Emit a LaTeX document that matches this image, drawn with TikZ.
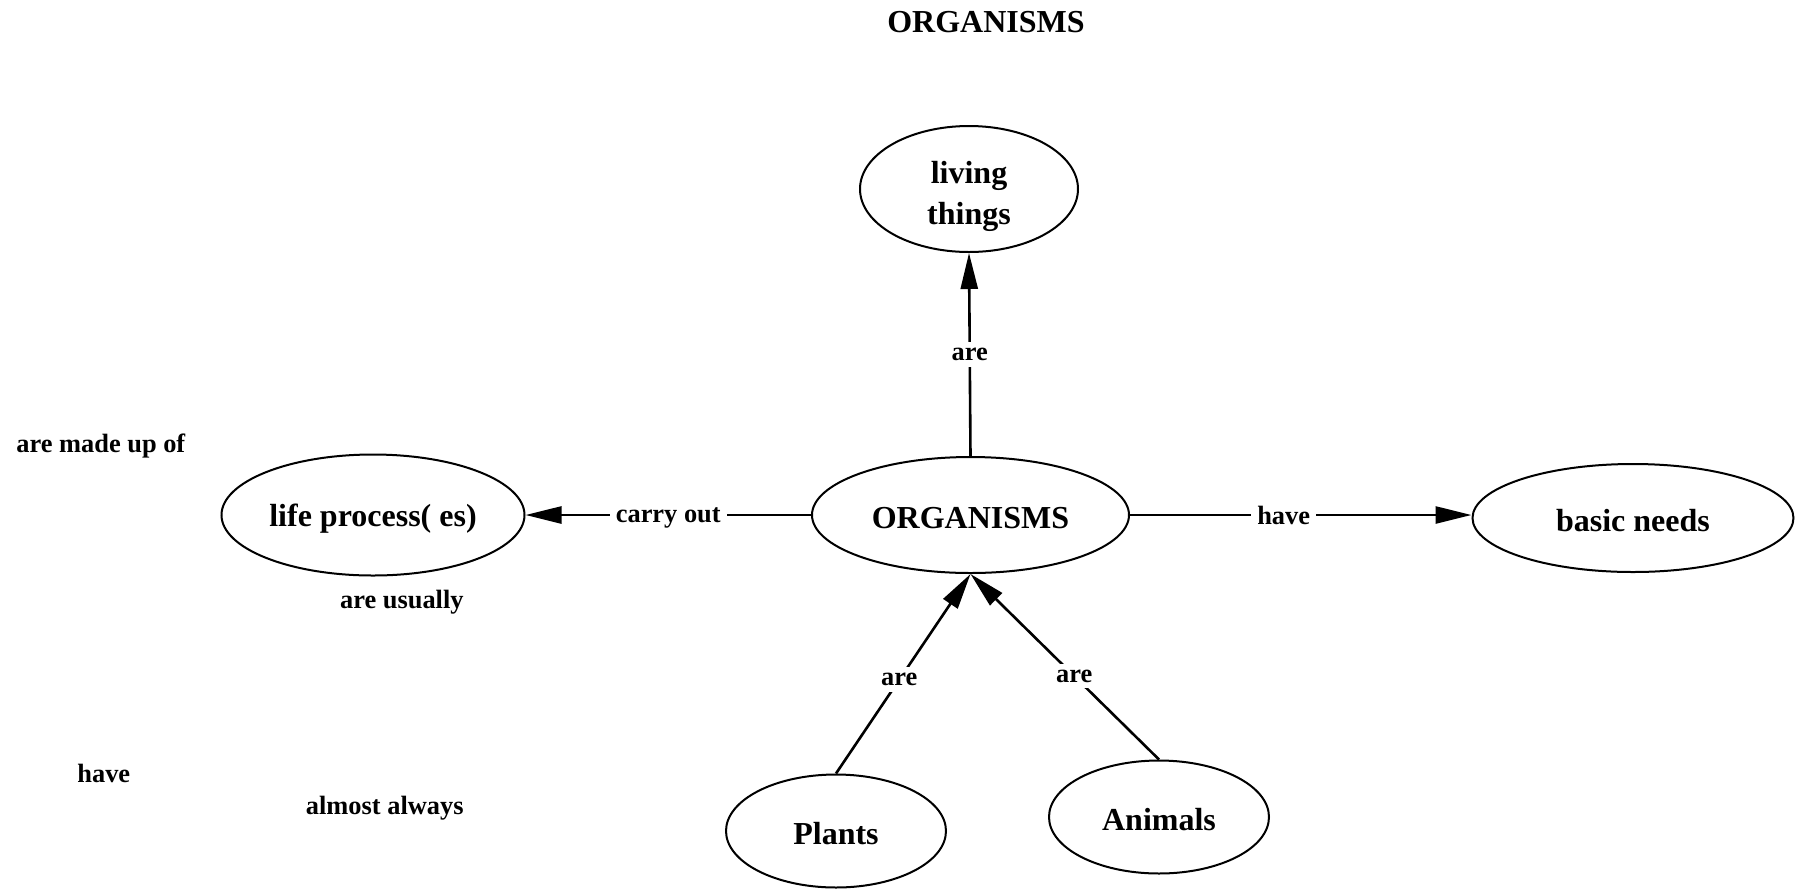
\documentclass[tikz,border=0pt]{standalone}
\usepackage{fontspec}
\setmainfont{Liberation Serif}
\usetikzlibrary{shapes.geometric,arrows.meta}
\newcommand{\lowtext}[2][3.5pt]{\raisebox{-#1}[\height][\depth]{#2}}
\begin{document}
\begin{tikzpicture}[x=0.5pt,y=-0.5pt,
  concept/.style={ellipse,draw,line width=1pt,inner sep=0pt,align=center,
    font=\bfseries\fontsize{16}{20.5}\selectfont},
  link/.style={line width=1.3pt,-{Triangle[length=18pt,width=8.5pt]}},
  lbl/.style={fill=white,inner sep=3pt,font=\bfseries\fontsize{13.2}{15}\selectfont},
  free/.style={inner sep=0pt,font=\bfseries\fontsize{13.2}{15}\selectfont},
  titlestyle/.style={inner sep=0pt,font=\bfseries\fontsize{16}{18}\selectfont}]
\useasboundingbox (0,0) rectangle (1796,890);
\node[titlestyle,anchor=base] (title) at (986,32) {ORGANISMS};
\node[concept,minimum width=109pt,minimum height=63pt] (living) at (969,189) {\lowtext{living}\\\lowtext{things}};
\node[concept,minimum width=158.5pt,minimum height=58pt] (org) at (970.5,515) {\lowtext[1.5pt]{ORGANISMS}};
\node[concept,minimum width=151.5pt,minimum height=60.5pt] (life) at (373,515) {\lowtext[1.8pt]{life process( es)}};
\node[concept,minimum width=160.5pt,minimum height=54pt] (needs) at (1633,518) {\lowtext[1.5pt]{basic needs}};
\node[concept,minimum width=110pt,minimum height=56.5pt] (plants) at (836,831) {\lowtext[1.5pt]{Plants}};
\node[concept,minimum width=110pt,minimum height=56.5pt] (animals) at (1159,817) {\lowtext[1.5pt]{Animals}};
\coordinate (needsin) at (org.east -| needs.west);
\draw[link] (org.north) -- node[lbl,pos=0.5] {are} (living.south);
\draw[link] (org.west) -- node[lbl] {\lowtext[1.5pt]{carry out}} (life.east);
\draw[link] (org.east) -- node[lbl,pos=0.45] {have} (needsin);
\draw[link] (plants.north) -- node[lbl,pos=0.47] {are} (org.south);
\draw[link] (animals.north) -- node[lbl,pos=0.45] {are} (org.south);
\node[free,anchor=base west] (madeup) at (16,452) {are made up of};
\node[free,anchor=base east] (usually) at (464,608) {are usually};
\node[free,anchor=base west] (have2) at (77,782) {have};
\node[free,anchor=base east] (almost) at (464,814) {almost always};
\end{tikzpicture}
\end{document}
